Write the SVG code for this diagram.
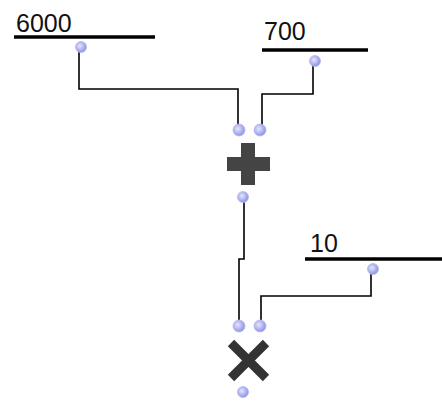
<svg xmlns="http://www.w3.org/2000/svg" width="442" height="402" viewBox="0 0 442 402">
<defs>
<radialGradient id="pg" cx="0.4" cy="0.4" r="0.6">
<stop offset="0" stop-color="#e4e6ff"/>
<stop offset="1" stop-color="#8f93e0"/>
</radialGradient>
<style>
.port{fill:url(#pg);stroke:#b4b8f0;stroke-width:0.8}
.bar{stroke:#000;stroke-width:3.5}
.wire{fill:none;stroke:#000;stroke-width:1.6}
.lbl{font-family:"Liberation Sans",Arial,sans-serif;font-size:25px;fill:#111}
.op{fill:#444}
</style>
</defs>
<rect width="442" height="402" fill="#fff"/>
<g id="connectors">
<polyline class="wire" points="79,50 79,89 238,89 238,125"/>
<polyline class="wire" points="313,65 313,94 262,94 262,125"/>
<polyline class="wire" points="244,202 244,259 239,259 239,320"/>
<polyline class="wire" points="371,273 371,296 261,296 261,320"/>
</g>
<g id="n6000">
<text class="lbl" x="16" y="32">6000</text>
<line class="bar" x1="14" y1="37" x2="155" y2="37"/>
<circle class="port" cx="81" cy="47" r="5.5"/>
</g>
<g id="n700">
<text class="lbl" x="264" y="40">700</text>
<line class="bar" x1="262" y1="50" x2="368" y2="50"/>
<circle class="port" cx="315" cy="61" r="5.5"/>
</g>
<g id="n10">
<text class="lbl" x="310" y="252">10</text>
<line class="bar" x1="305" y1="259" x2="442" y2="259"/>
<circle class="port" cx="373" cy="269" r="5.5"/>
</g>
<g id="plus">
<circle class="port" cx="239" cy="130" r="6"/>
<circle class="port" cx="260" cy="130" r="6"/>
<rect class="op" x="241" y="143" width="14" height="42"/>
<rect class="op" x="227" y="157" width="43" height="14"/>
<circle class="port" cx="243" cy="197" r="5.5"/>
</g>
<g id="times">
<circle class="port" cx="239" cy="326" r="6"/>
<circle class="port" cx="260" cy="326" r="6"/>
<path d="M231,343 L266,378 M266,343 L231,378" stroke="#333" stroke-width="9"/>
<circle class="port" cx="243" cy="392" r="5.5"/>
</g>
</svg>
